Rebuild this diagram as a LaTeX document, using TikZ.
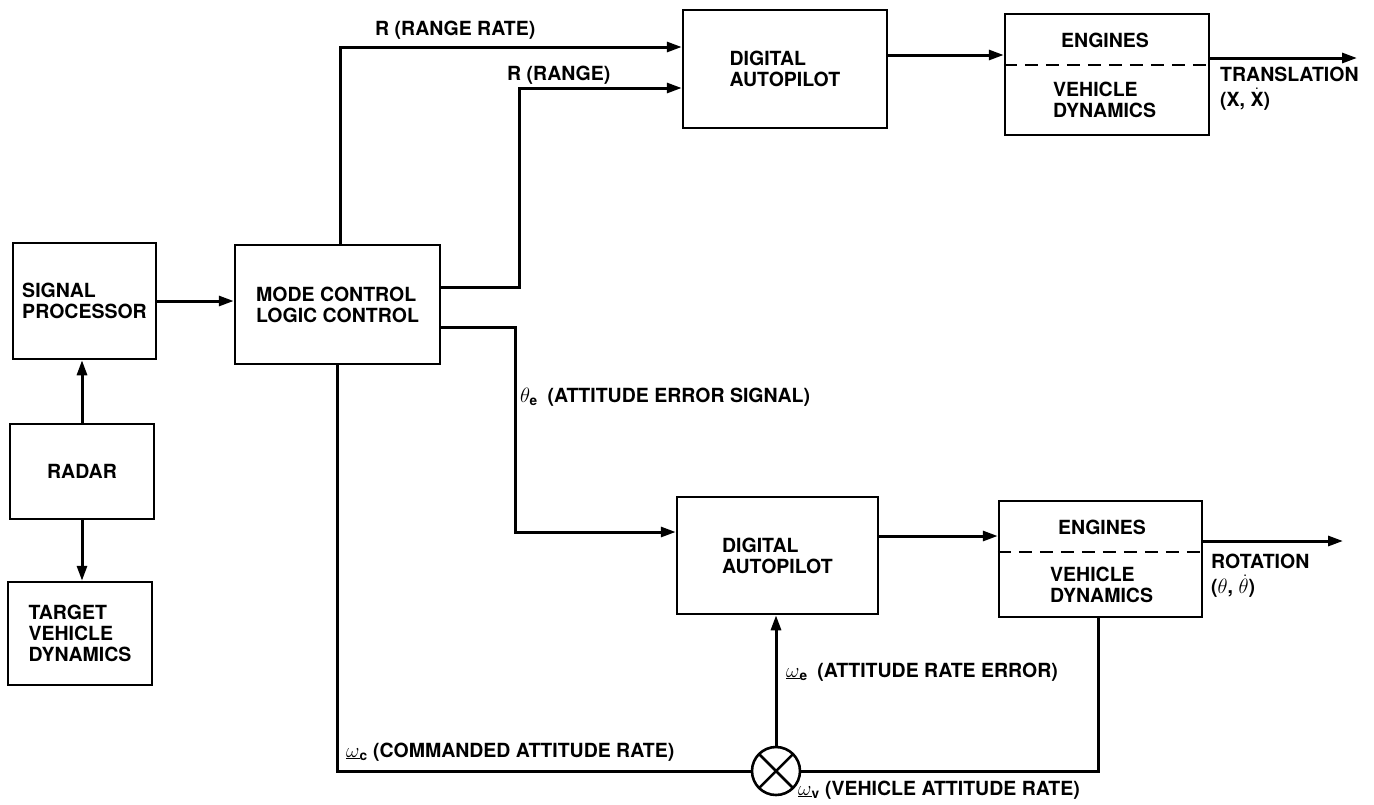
\documentclass[tikz,border=0pt]{standalone}
\usepackage{fontspec}
\setmainfont{TeX Gyre Heros}
\usetikzlibrary{arrows.meta}
\begin{document}
\begin{tikzpicture}[x=1pt,y=-1pt,
  every node/.style={font=\fontsize{19.5}{21}\selectfont\bfseries},
  box/.style={draw, line width=2.5pt, inner sep=0pt, align=left},
  flow/.style={line width=3pt, -{Triangle[length=15pt,width=10pt]}},
  wire/.style={line width=3pt},
  sep/.style={line width=2.5pt, dash pattern=on 13pt off 8pt},
  lbl/.style={anchor=west, inner sep=0pt, align=left}]
\useasboundingbox (0,0) rectangle (1374,804);

% boxes
\node[box, minimum width=143pt, minimum height=116pt] (sp) at (84.5,301) {SIGNAL\\PROCESSOR};
\node[box, minimum width=144pt, minimum height=95pt] (radar) at (82,471.5) {RADAR};
\node[box, minimum width=144pt, minimum height=103pt] (tvd) at (80,633.5) {TARGET\\VEHICLE\\DYNAMICS};
\node[box, minimum width=205pt, minimum height=119pt] (mc) at (337.5,304.5) {MODE CONTROL\\LOGIC CONTROL};
\node[box, minimum width=204pt, minimum height=118pt] (da1) at (785,69) {DIGITAL\\AUTOPILOT};
\node[box, minimum width=204pt, minimum height=121pt] (eng1) at (1107,74.5) {};
\node[box, minimum width=201pt, minimum height=117pt] (da2) at (777.5,555.5) {DIGITAL\\AUTOPILOT};
\node[box, minimum width=203pt, minimum height=116pt] (eng2) at (1100.5,559) {};
\node[draw, circle, line width=2.6pt, minimum size=48pt, inner sep=0pt, outer sep=0pt] (sum) at (776,771) {};
\draw[line width=2.5pt] (sum.north east) -- (sum.south west) (sum.north west) -- (sum.south east);

% engine box contents
\coordinate (d1) at (0,65);
\coordinate (d2) at (0,552);
\draw[sep] (eng1.west |- d1) -- (eng1.east |- d1);
\draw[sep] (eng2.west |- d2) -- (eng2.east |- d2);
\node (e1t) at (1105,40) {ENGINES};
\node[lbl] (e1b) at (1053,100) {VEHICLE\\DYNAMICS};
\node (e2t) at (1102,527) {ENGINES};
\node[lbl] (e2b) at (1050,585) {VEHICLE\\DYNAMICS};

% helper coordinates
\coordinate (yRR) at (0,47);
\coordinate (r1) at (519,287);
\coordinate (r2) at (519,88);
\coordinate (t1) at (515,327);
\coordinate (t2) at (515,532);
\coordinate (yA) at (0,55);
\coordinate (tr) at (1357,58);
\coordinate (yB) at (0,536);
\coordinate (rot) at (1343,541);
\coordinate (v1) at (1098,0);

% connectors
\draw[flow] (sp.east) -- (sp.east -| mc.west);
\draw[flow] (radar.north) -- (radar.north |- sp.south);
\draw[flow] (radar.south) -- (radar.south |- tvd.north);
\draw[flow] ([xshift=3pt]mc.north) |- (yRR -| da1.west);
\draw[flow] (mc.east |- r1) -- (r1) -- (r2) -- (r2 -| da1.west);
\draw[flow] (mc.east |- t1) -- (t1) -- (t2) -- (t2 -| da2.west);
\draw[flow] (da1.east |- yA) -- (yA -| eng1.west);
\draw[flow] (eng1.east |- tr) -- (tr);
\draw[flow] (da2.east |- yB) -- (yB -| eng2.west);
\draw[flow] (eng2.east |- rot) -- (rot);
\draw[wire] (mc.south) |- (sum.west);
\draw[wire] (eng2.south -| v1) |- (sum.east);
\draw[flow] (sum.north) -- (sum.north |- da2.south);

% labels
\node[lbl] (lrr) at (375,30) {R (RANGE RATE)};
\node[lbl] (lr) at (507,75) {R (RANGE)};
\node[lbl] (lth) at (520,397) {$\theta_{\mathbf{e}}$\enspace(ATTITUDE ERROR SIGNAL)};
\node[lbl] (lwc) at (346,752) {$\underline{\omega}_{\mathbf{c}}$ (COMMANDED ATTITUDE RATE)};
\node[lbl] (lwe) at (786,672) {$\underline{\omega}_{\mathbf{e}}$\enspace(ATTITUDE RATE ERROR)};
\node[lbl] (lwv) at (798,790) {$\underline{\omega}_{\mathbf{v}}$ (VEHICLE ATTITUDE RATE)};
\node[lbl] (ltr) at (1220,89) {TRANSLATION\\[4pt](X, $\dot{\mbox{X}}$)};
\node[lbl] (lrot) at (1211,576) {ROTATION\\[4pt]($\theta$, $\dot\theta$)};
\end{tikzpicture}
\end{document}
